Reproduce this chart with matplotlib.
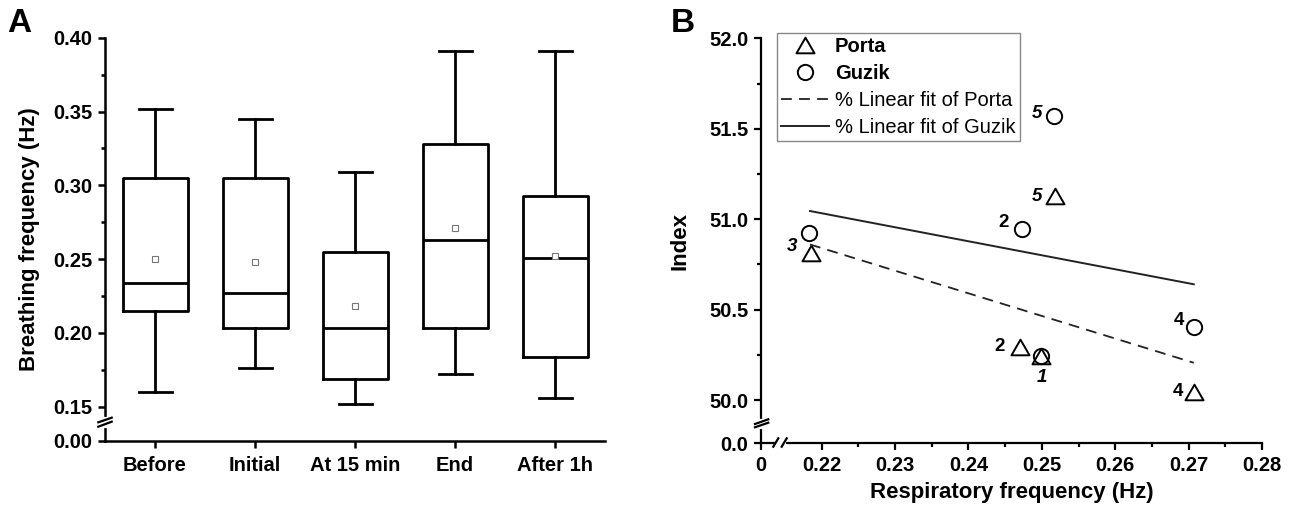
import numpy as np
import matplotlib
matplotlib.use("Agg")
import matplotlib.pyplot as plt
import matplotlib.transforms as mtransforms
from matplotlib.path import Path
from matplotlib.ticker import FixedLocator, FixedFormatter

plt.rcParams["font.family"] = ["Liberation Sans", "DejaVu Sans"]
plt.rcParams["font.weight"] = "bold"
plt.rcParams["axes.labelweight"] = "bold"

# Daten Panel A (Boxplot)
stufen = ["Before", "Initial", "At 15 min", "End", "After 1h"]
whisker_unten = [0.160, 0.176, 0.152, 0.172, 0.156]
quartil_1 = [0.215, 0.203, 0.169, 0.203, 0.184]
median = [0.234, 0.227, 0.203, 0.263, 0.251]
quartil_3 = [0.305, 0.305, 0.255, 0.328, 0.293]
whisker_oben = [0.352, 0.345, 0.309, 0.391, 0.391]
mittelwert = [0.250, 0.248, 0.218, 0.271, 0.252]

# Daten Panel B (Streudiagramm)
punkt_namen = ["1", "2", "3", "4", "5"]
porta_x = [0.2499, 0.2470, 0.2185, 0.2707, 0.2518]
porta_y = [50.243, 50.295, 50.811, 50.046, 51.128]
guzik_x = [0.2499, 0.2473, 0.2182, 0.2707, 0.2517]
guzik_y = [50.243, 50.946, 50.922, 50.405, 51.572]
guzik_namen = ["", "2", "", "4", "5"]
fit_x = [0.2184, 0.2707]
porta_fit_y = [50.86, 50.206]
guzik_fit_y = [51.045, 50.64]


# Achse mit Bruch: stueckweise lineare Skala
def knick_skala(werte, pixel):
    werte = np.asarray(werte, float)
    pixel = np.asarray(pixel, float)
    return (lambda v: np.interp(v, werte, pixel),
            lambda p: np.interp(p, pixel, werte))


fig = plt.figure(figsize=(12.91, 5.12), dpi=100)
pix = mtransforms.Affine2D().scale(1 / 1291, -1 / 512).translate(0, 1) + fig.transFigure

# ---------------- Panel A ----------------
ax_a = fig.add_axes([105 / 1291, (512 - 440.7) / 512, 500 / 1291, 403 / 512])
ax_a.set_yscale("function", functions=knick_skala([0, 0.01, 0.15, 0.40], [0, 13, 34, 403]))
ax_a.set_ylim(0, 0.40)
ax_a.set_xlim(0.5, 5.5)

stats = []
for i in range(len(stufen)):
    stats.append(dict(med=median[i], q1=quartil_1[i], q3=quartil_3[i],
                      whislo=whisker_unten[i], whishi=whisker_oben[i],
                      mean=mittelwert[i], fliers=[]))
linie = dict(color="black", linewidth=2.0)
ax_a.bxp(stats, positions=range(1, 6), widths=0.65, capwidths=0.33,
         showmeans=True, showfliers=False, boxprops=linie, whiskerprops=linie,
         capprops=linie, medianprops=linie,
         meanprops=dict(marker="s", markersize=4, markerfacecolor="white",
                        markeredgecolor="#777777", markeredgewidth=0.8))

ax_a.set_xticks(range(1, 6))
ax_a.set_xticklabels(stufen)
y_ticks_a = [0, 0.15, 0.20, 0.25, 0.30, 0.35, 0.40]
ax_a.yaxis.set_major_locator(FixedLocator(y_ticks_a))
ax_a.yaxis.set_major_formatter(FixedFormatter([f"{t:.2f}" for t in y_ticks_a]))
ax_a.yaxis.set_minor_locator(FixedLocator([0.175, 0.225, 0.275, 0.325, 0.375]))
ax_a.set_ylabel("Breathing frequency (Hz)", fontsize=16)
ax_a.yaxis.set_label_coords(-0.13, 0.5)

# ---------------- Panel B ----------------
ax_b = fig.add_axes([761 / 1291, (512 - 443.3) / 512, 501 / 1291, 405 / 512])
ax_b.set_xscale("function", functions=knick_skala([0, 0.002, 0.2146, 0.28], [0, 14, 21.1, 500.7]))
ax_b.set_yscale("function", functions=knick_skala([0, 1, 49.9, 52.0], [0, 18, 25.2, 405]))
ax_b.set_xlim(0, 0.28)
ax_b.set_ylim(0, 52.0)

dreieck = Path([(0, 0.433), (-0.5, -0.433), (0.5, -0.433), (0, 0.433)], closed=True)
h1, = ax_b.plot(porta_x, porta_y, linestyle="none", marker=dreieck, markersize=13,
                markerfacecolor="none", markeredgecolor="black", markeredgewidth=1.4,
                label="Porta")
h2, = ax_b.plot(guzik_x, guzik_y, linestyle="none", marker="o", markersize=11,
                markerfacecolor="none", markeredgecolor="black", markeredgewidth=1.4,
                label="Guzik")
h3, = ax_b.plot(fit_x, porta_fit_y, color="#222222", linewidth=1.3, dashes=(6, 4),
                label="% Linear fit of Porta")
h4, = ax_b.plot(fit_x, guzik_fit_y, color="#222222", linewidth=1.4,
                label="% Linear fit of Guzik")

kursiv = {"1": "italic", "3": "italic", "5": "italic"}
porta_versatz = [(1, -21), (-20, 0), (-19, 6.6), (-16, 0), (-18, 0)]
guzik_versatz = [(0, 0), (-18.4, 6.3), (0, 0), (-15, 6), (-17, 2.4)]
for i, name in enumerate(punkt_namen):
    ax_b.annotate(name, (porta_x[i], porta_y[i]), xytext=porta_versatz[i],
                  textcoords="offset pixels", ha="center", va="center",
                  fontsize=13.5, fontstyle=kursiv.get(name, "normal"))
for i, name in enumerate(guzik_namen):
    if name:
        ax_b.annotate(name, (guzik_x[i], guzik_y[i]), xytext=guzik_versatz[i],
                      textcoords="offset pixels", ha="center", va="center",
                      fontsize=13.5, fontstyle=kursiv.get(name, "normal"))

x_ticks_b = [0, 0.22, 0.23, 0.24, 0.25, 0.26, 0.27, 0.28]
ax_b.xaxis.set_major_locator(FixedLocator(x_ticks_b))
ax_b.xaxis.set_major_formatter(FixedFormatter(["0"] + [f"{t:.2f}" for t in x_ticks_b[1:]]))
ax_b.xaxis.set_minor_locator(FixedLocator([0.225, 0.235, 0.245, 0.255, 0.265, 0.275]))
y_ticks_b = [0, 50.0, 50.5, 51.0, 51.5, 52.0]
ax_b.yaxis.set_major_locator(FixedLocator(y_ticks_b))
ax_b.yaxis.set_major_formatter(FixedFormatter([f"{t:.1f}" for t in y_ticks_b]))
ax_b.yaxis.set_minor_locator(FixedLocator([50.25, 50.75, 51.25, 51.75]))
ax_b.set_xlabel("Respiratory frequency (Hz)", fontsize=16)
ax_b.set_ylabel("Index", fontsize=16)
ax_b.xaxis.set_label_coords(0.5, -0.095)
ax_b.yaxis.set_label_coords(-0.14, 0.5)

leg = ax_b.legend(handles=[h1, h2, h3, h4], loc="upper left",
                  bbox_to_anchor=(0.0313, 1.0138), borderaxespad=0, fontsize=14.5,
                  handlelength=2.4, handletextpad=0.3, borderpad=0.2,
                  labelspacing=0.40, numpoints=1, frameon=True, fancybox=False,
                  edgecolor="#888888", framealpha=1)
leg.get_frame().set_linewidth(1.0)
for t in leg.get_texts()[2:]:
    t.set_fontweight("normal")

# gemeinsame Achsen-Optik
for ax, sw in ((ax_a, 1.8), (ax_b, 1.6)):
    ax.spines["top"].set_visible(False)
    ax.spines["right"].set_visible(False)
    ax.spines["left"].set_linewidth(sw)
    ax.spines["bottom"].set_linewidth(sw)
    ax.tick_params(which="major", direction="out", length=5, width=sw, labelsize=14.5, pad=4)
    ax.tick_params(which="minor", direction="out", length=3, width=sw)
    for lbl in ax.get_xticklabels() + ax.get_yticklabels():
        lbl.set_fontweight("bold")
ax_a.tick_params(axis="x", which="major", pad=6)

# Achsenbrueche zeichnen
def bruch(luecke, striche):
    fig.add_artist(plt.Line2D(*luecke, transform=pix, color="white", linewidth=4.5))
    for xs, ys in striche:
        fig.add_artist(plt.Line2D(xs, ys, transform=pix, color="black", linewidth=1.6))

bruch(([105, 105], [419.5, 424.5]),
      [([98.3, 111.7], [422.3, 417.7]), ([98.3, 111.7], [426.7, 421.7])])
bruch(([761, 761], [421.5, 425.5]),
      [([755, 768.3], [424, 419.3]), ([755, 768.3], [427.3, 422.7])])
bruch(([777.5, 782.5], [443.3, 443.3]),
      [([773.3, 778.3], [446.7, 438.3]), ([781.7, 786.7], [446.7, 438.3])])

fig.text(7 / 1291, 1 - 24 / 512, "A", fontsize=24, fontweight="bold", ha="left", va="center")
fig.text(671 / 1291, 1 - 23 / 512, "B", fontsize=24, fontweight="bold", ha="left", va="center")

fig.savefig("out.png", dpi=100)
